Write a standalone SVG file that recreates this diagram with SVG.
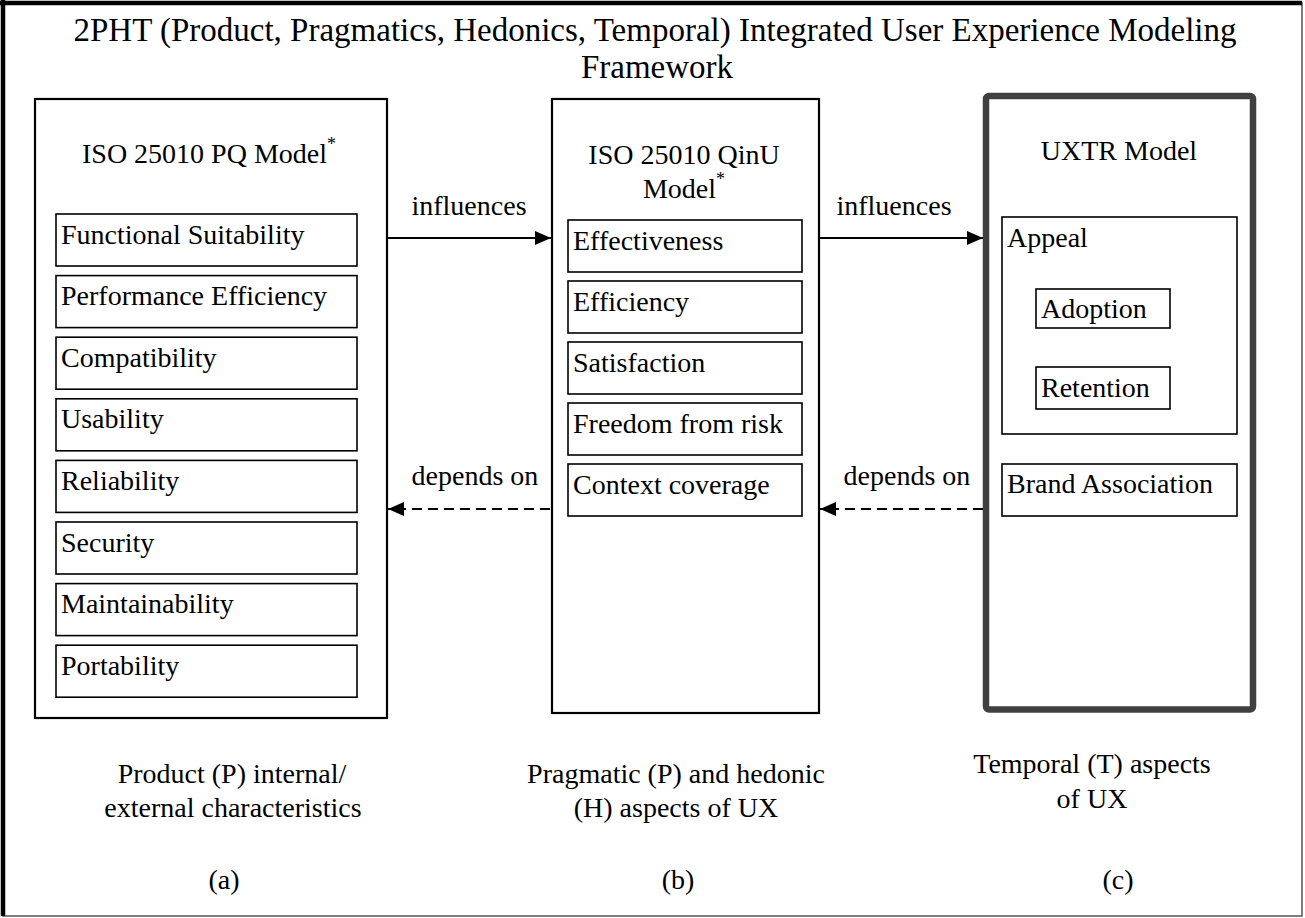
<svg xmlns="http://www.w3.org/2000/svg" width="1305" height="918" viewBox="0 0 1305 918">
  <style>
    text { font-family: "Liberation Serif", "Times New Roman", serif; font-size: 28px; fill: #000; }
    .mid { text-anchor: middle; }
    .head { font-size: 33px; }
    .sup { font-size: 18px; }
    .panel { fill: #fff; stroke: #000; stroke-width: 2.2; }
    .panel-thick { fill: #fff; stroke: #404040; stroke-width: 6.5; }
    .item { fill: #fff; stroke: #000; stroke-width: 1.6; }
    .link { stroke: #000; stroke-width: 2.2; fill: none; }
    .dash { stroke-dasharray: 10 6; }
  </style>
  <defs>
    <marker id="arrow" viewBox="0 0 16 14" refX="16" refY="7" markerWidth="16" markerHeight="14" markerUnits="userSpaceOnUse" orient="auto">
      <path d="M0,0 L16,7 L0,14 Z" fill="#000"/>
    </marker>
  </defs>

  <!-- frame -->
  <rect x="0" y="0" width="1305" height="918" fill="#fff"/>
  <rect x="3" y="3" width="1299" height="913" fill="none" stroke="#555" stroke-width="1.5"/>
  <line x1="0" y1="3" x2="1302" y2="3" stroke="#000" stroke-width="4.5"/>
  <line x1="3" y1="0" x2="3" y2="916" stroke="#000" stroke-width="4.5"/>

  <!-- heading -->
  <g id="heading">
    <text class="mid head" x="655" y="41">2PHT (Product, Pragmatics, Hedonics, Temporal) Integrated User Experience Modeling</text>
    <text class="mid head" x="657" y="78">Framework</text>
  </g>

  <!-- (a) product quality model -->
  <g id="pq-model">
    <rect class="panel" x="35" y="99" width="352" height="619"/>
    <text class="mid" x="209" y="163">ISO 25010 PQ Model<tspan class="sup" dy="-13">*</tspan></text>
    <rect class="item" x="56" y="214" width="301" height="52"/>
    <text x="61" y="243.5">Functional Suitability</text>
    <rect class="item" x="56" y="275.6" width="301" height="52"/>
    <text x="61" y="305.1">Performance Efficiency</text>
    <rect class="item" x="56" y="337.2" width="301" height="52"/>
    <text x="61" y="366.7">Compatibility</text>
    <rect class="item" x="56" y="398.8" width="301" height="52"/>
    <text x="61" y="428.3">Usability</text>
    <rect class="item" x="56" y="460.4" width="301" height="52"/>
    <text x="61" y="489.9">Reliability</text>
    <rect class="item" x="56" y="522" width="301" height="52"/>
    <text x="61" y="551.5">Security</text>
    <rect class="item" x="56" y="583.6" width="301" height="52"/>
    <text x="61" y="613.1">Maintainability</text>
    <rect class="item" x="56" y="645.2" width="301" height="52"/>
    <text x="61" y="674.7">Portability</text>
  </g>

  <!-- (b) quality in use model -->
  <g id="qinu-model">
    <rect class="panel" x="552" y="99" width="267" height="614"/>
    <text class="mid" x="684" y="164">ISO 25010 QinU</text>
    <text class="mid" x="684" y="198">Model<tspan class="sup" dy="-13">*</tspan></text>
    <rect class="item" x="568" y="220" width="234" height="52"/>
    <text x="573" y="250">Effectiveness</text>
    <rect class="item" x="568" y="281" width="234" height="52"/>
    <text x="573" y="311">Efficiency</text>
    <rect class="item" x="568" y="342" width="234" height="52"/>
    <text x="573" y="372">Satisfaction</text>
    <rect class="item" x="568" y="403" width="234" height="52"/>
    <text x="573" y="433">Freedom from risk</text>
    <rect class="item" x="568" y="464" width="234" height="52"/>
    <text x="573" y="494">Context coverage</text>
  </g>

  <!-- (c) UXTR model -->
  <g id="uxtr-model">
    <rect class="panel-thick" x="986" y="96" width="267" height="613.5" rx="3"/>
    <text class="mid" x="1119" y="160">UXTR Model</text>
    <rect class="item" x="1002" y="217" width="235" height="217"/>
    <text x="1007" y="247">Appeal</text>
    <rect class="item" x="1036" y="289" width="134" height="39"/>
    <text x="1041" y="318">Adoption</text>
    <rect class="item" x="1036" y="367" width="134" height="42"/>
    <text x="1041" y="397">Retention</text>
    <rect class="item" x="1002" y="464" width="235" height="52"/>
    <text x="1007" y="493">Brand Association</text>
  </g>

  <!-- connectors -->
  <g id="connectors">
    <line class="link" x1="387" y1="238" x2="551" y2="238" marker-end="url(#arrow)"/>
    <text class="mid" x="469" y="215">influences</text>
    <line class="link" x1="819" y1="238" x2="983" y2="238" marker-end="url(#arrow)"/>
    <text class="mid" x="894" y="215">influences</text>
    <line class="link dash" x1="550" y1="509" x2="388" y2="509" marker-end="url(#arrow)"/>
    <text class="mid" x="475" y="485">depends on</text>
    <line class="link dash" x1="983" y1="509" x2="820" y2="509" marker-end="url(#arrow)"/>
    <text class="mid" x="907" y="485">depends on</text>
  </g>

  <!-- captions -->
  <g id="captions">
    <text class="mid" x="232" y="783">Product (P) internal/</text>
    <text class="mid" x="233" y="817">external characteristics</text>
    <text class="mid" x="676" y="783">Pragmatic (P) and hedonic</text>
    <text class="mid" x="676" y="817">(H) aspects of UX</text>
    <text class="mid" x="1092" y="773">Temporal (T) aspects</text>
    <text class="mid" x="1092" y="808">of UX</text>
    <text class="mid" x="224" y="889">(a)</text>
    <text class="mid" x="678" y="889">(b)</text>
    <text class="mid" x="1118" y="889">(c)</text>
  </g>
</svg>
